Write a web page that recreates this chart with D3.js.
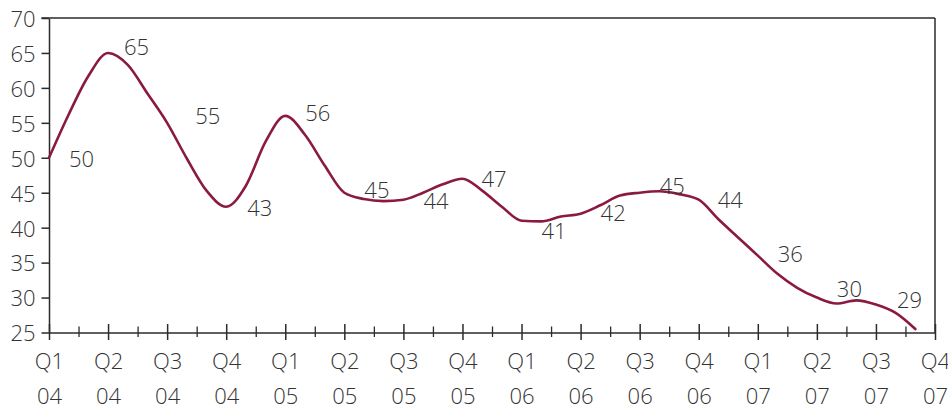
<!DOCTYPE html>
<html>
<head>
<meta charset="utf-8">
<script src="https://cdn.jsdelivr.net/npm/d3@7"></script>
<style>
  html, body { margin: 0; padding: 0; background: #fff; }
  svg text { font-family: "Open Sans", "Noto Sans", sans-serif; font-weight: 300; fill: #333; }
</style>
</head>
<body>
<svg id="chart" width="948" height="409"></svg>
<script>
// Quarter tick labels (two lines: quarter / year)
const quarterNames = ["Q1","Q2","Q3","Q4","Q1","Q2","Q3","Q4","Q1","Q2","Q3","Q4","Q1","Q2","Q3","Q4"];
const yearNames    = ["04","04","04","04","05","05","05","05","06","06","06","06","07","07","07","07"];

// Value-axis ticks
const yTicks = [25, 30, 35, 40, 45, 50, 55, 60, 65, 70];

// Quarterly values printed next to the line (Q1 04 .. Q3 07)
const quarterValues = [50, 65, 55, 43, 56, 45, 44, 47, 41, 42, 45, 44, 36, 30, 29];

// Monthly series, Jan 04 .. Sep 07
const monthlyValues = [
  50, 56.2, 61.7, 65, 63.3, 59.2, 55, 49.9, 45.3, 43,
  46.0, 52.3, 56, 53.3, 48.9, 45, 44.1, 43.8, 44, 45.0,
  46.2, 47, 45.3, 43.0, 41, 40.9, 41.6, 42, 43.2, 44.6,
  45, 45.2, 44.8, 44, 41.2, 38.6, 36, 33.4, 31.4, 30,
  29.15, 29.6, 29, 27.8, 25.5
];

// Label placement relative to its quarter point: [dx, dy]
const labelNudge = [[20,1],[16,-6],[28,-7],[21,1],[20,-3],[20,-3],[20,1],[19,0],[20,10],[20,-1],[20,-7],[19,0],[20,-2],[20,-8],[21,-4]];

const svg = d3.select("#chart");
const plotLeft = 49, plotRight = 935, plotTop = 18, plotBottom = 332.5;

const x = d3.scaleLinear().domain([0, 45]).range([plotLeft, plotRight]);
const y = d3.scaleLinear().domain([25, 70]).range([plotBottom, plotTop]);

const axisColor = "#2b2b2b";

// Frame: top and right edges
svg.append("line").attr("x1", plotLeft - 7.5).attr("x2", plotRight).attr("y1", plotTop).attr("y2", plotTop)
  .attr("stroke", axisColor).attr("stroke-width", 1.5);
svg.append("line").attr("x1", plotRight).attr("x2", plotRight).attr("y1", plotTop).attr("y2", plotBottom)
  .attr("stroke", axisColor).attr("stroke-width", 1.5);

// Y axis
const yAxis = svg.append("g").attr("transform", `translate(${plotLeft},0)`)
  .call(d3.axisLeft(y).tickValues(yTicks).tickSize(7.5).tickSizeOuter(0).tickPadding(6));
yAxis.select(".domain").attr("stroke", axisColor).attr("stroke-width", 1.5);
yAxis.selectAll(".tick line").attr("stroke", axisColor).attr("stroke-width", 1.5);
yAxis.selectAll(".tick text").attr("font-size", 22).attr("dy", "0.38em")
  .style("font-family", '"Open Sans", sans-serif').style("font-weight", 300).attr("fill", "#333");

// X axis: minor ticks at mid-quarter
const minorTicks = d3.range(1.5, 45, 3);
const xMinor = svg.append("g").attr("transform", `translate(0,${plotBottom})`)
  .call(d3.axisBottom(x).tickValues(minorTicks).tickFormat(() => "").tickSizeOuter(0));
xMinor.select(".domain").remove();
xMinor.selectAll(".tick line").attr("y1", -6).attr("y2", 4.5)
  .attr("stroke", axisColor).attr("stroke-width", 1.3);

// X axis: major quarter ticks with two-line labels
const majorTicks = d3.range(0, 46, 3);
const xMajor = svg.append("g").attr("transform", `translate(0,${plotBottom})`)
  .call(d3.axisBottom(x).tickValues(majorTicks).tickSizeOuter(0).tickFormat(() => ""));
xMajor.select(".domain").attr("stroke", axisColor).attr("stroke-width", 1.5);
xMajor.selectAll(".tick line").attr("y1", -8.5).attr("y2", 7.5)
  .attr("stroke", axisColor).attr("stroke-width", 1.5);
xMajor.selectAll(".tick text").each(function(d, i) {
  const t = d3.select(this).attr("y", null).attr("dy", null)
    .attr("font-size", 22).attr("text-anchor", "middle")
    .style("font-family", '"Open Sans", sans-serif').style("font-weight", 300).attr("fill", "#333");
  t.text(null);
  t.append("tspan").attr("x", 0).attr("y", 36).text(quarterNames[i]);
  t.append("tspan").attr("x", 0).attr("y", 71).text(yearNames[i]);
});

// The series line
const line = d3.line()
  .x((d, i) => x(i))
  .y(d => y(d))
  .curve(d3.curveMonotoneX);

svg.append("path")
  .datum(monthlyValues)
  .attr("d", line)
  .attr("fill", "none")
  .attr("stroke", "#8a1a3f")
  .attr("stroke-width", 2.6)
  .attr("stroke-linejoin", "round")
  .attr("stroke-linecap", "round");

// Quarterly value labels
svg.append("g").selectAll("text")
  .data(quarterValues)
  .join("text")
  .attr("x", (d, i) => x(i * 3) + labelNudge[i][0])
  .attr("y", (d, i) => y(d) + labelNudge[i][1])
  .attr("dy", "0.36em")
  .attr("font-size", 22)
  .attr("text-anchor", "start")
  .text(d => d);
</script>
</body>
</html>
